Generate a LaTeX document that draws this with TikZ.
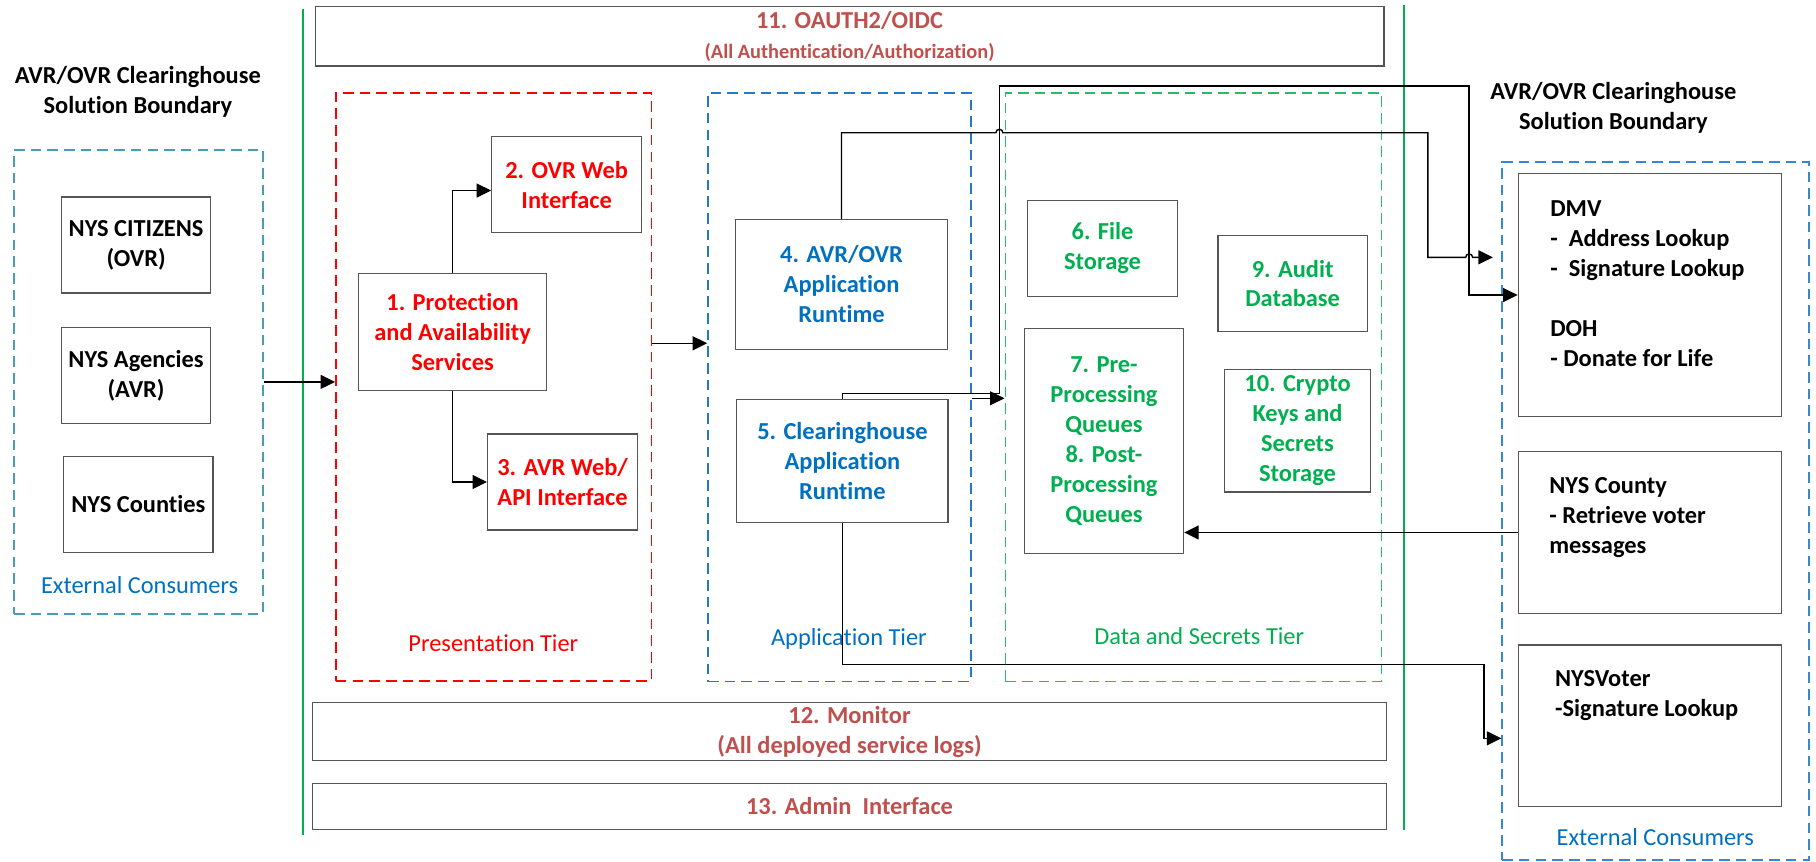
\documentclass[tikz,border=0pt]{standalone}
\usepackage{fontspec}
\setmainfont{Carlito}[Ligatures=NoCommon]
\usepackage{tikz}
\usetikzlibrary{arrows.meta,calc}

\definecolor{tred}{HTML}{FF0000}
\definecolor{tblue}{HTML}{0070C0}
\definecolor{tgreen}{HTML}{00B050}
\definecolor{tbrown}{HTML}{C0504D}
\definecolor{boxgray}{HTML}{555555}
\definecolor{extteal}{HTML}{4B9DB6}
\definecolor{extblue}{HTML}{3389D6}
\definecolor{appblue}{HTML}{2479C9}
\definecolor{datagreen}{HTML}{22BF66}
\definecolor{wallgreen}{HTML}{00B050}

\newcommand{\diafont}{\fontsize{12}{14.74}\selectfont}

\tikzset{
  box/.style={draw=boxgray, line width=0.6pt, inner sep=0pt, align=center, font=\diafont\bfseries},
  band/.style={box, text=tbrown},
  tier/.style={line width=0.8pt, dash pattern=on 5.2pt off 3pt, inner sep=0pt},
  lbl/.style={inner sep=0pt, font=\diafont},
  list/.style={inner sep=0pt, align=left, anchor=north west, font=\diafont\bfseries},
  arr/.style={line width=0.7pt, -{Triangle[length=0.25cm,width=0.24cm]}},
  wall/.style={draw=wallgreen, line width=1pt},
}

\begin{document}
\begin{tikzpicture}[x=0.02cm, y=-0.02cm]
\fill[white] (0,0) rectangle (1568,744);
\useasboundingbox (0,0) rectangle (1568,744);

% Solution boundary walls
\draw[wall] (262,8) -- (262,721);
\draw[wall] (1212,4) -- (1212,717);

% Left external consumers
\node[lbl, font=\diafont\bfseries, align=center] (titleL) at (119,79.4) {AVR/OVR Clearinghouse\\Solution Boundary};
\node[tier, draw=extteal, minimum width=4.30cm, minimum height=8.01cm] (extL) at (119.6,329.75) {};
\node[box, minimum width=2.58cm, minimum height=1.66cm] (cit) at (117.5,211.5) {NYS CITIZENS\\(OVR)};
\node[box, minimum width=2.58cm, minimum height=1.66cm] (agn) at (117.5,324.5) {NYS Agencies\\(AVR)};
\node[box, minimum width=2.58cm, minimum height=1.66cm] (cty) at (119.5,435.5) {NYS Counties};
\node[lbl, text=tblue] (extLlbl) at (120.6,505) {External Consumers};

% 11 band
\node[band, minimum width=18.46cm, minimum height=1.02cm] (oauth) at (733.5,31.4) {11. OAUTH2/OIDC\\{\fontsize{10}{12}\selectfont (All Authentication/Authorization)}};

% Presentation tier
\node[tier, draw=tred, minimum width=5.448cm, minimum height=10.16cm] (presT) at (426.2,334) {};
\node[box, text=tred, minimum width=3.246cm, minimum height=2.02cm] (p1) at (390.75,286.5) {1. Protection\\and Availability\\Services};
\node[box, text=tred, minimum width=2.588cm, minimum height=1.66cm] (p2) at (489.3,159.5) {2. OVR Web\\Interface};
\node[box, text=tred, minimum width=2.59cm, minimum height=1.658cm] (p3) at (485.75,416.15) {3. AVR Web/\\API Interface};
\node[lbl, text=tred] (presLbl) at (426,555.5) {Presentation Tier};

% Application tier
\node[tier, draw=appblue, minimum width=4.54cm, minimum height=10.17cm] (appT) at (724.8,334.3) {};
\node[box, text=tblue, minimum width=3.664cm, minimum height=2.244cm] (a4) at (726.6,245.5) {4. AVR/OVR\\Application\\Runtime};
\node[box, text=tblue, minimum width=3.646cm, minimum height=2.13cm] (a5) at (727.35,398) {5. Clearinghouse\\Application\\Runtime};
\node[lbl, text=tblue] (appLbl) at (733,552) {Application Tier};

% Data and secrets tier
\node[tier, draw=datagreen, minimum width=6.5cm, minimum height=10.17cm] (dataT) at (1030.5,334.3) {};
\node[box, text=tgreen, minimum width=2.582cm, minimum height=1.656cm] (d6) at (951.95,214.4) {6. File\\Storage};
\node[box, text=tgreen, minimum width=2.752cm, minimum height=3.878cm] (d78) at (953.2,380.75) {7. Pre-\\Processing\\Queues\\8. Post-\\Processing\\Queues};
\node[box, text=tgreen, minimum width=2.58cm, minimum height=1.664cm] (d9) at (1116.1,244.8) {9. Audit\\Database};
\node[box, text=tgreen, minimum width=2.52cm, minimum height=2.118cm] (d10) at (1120.3,371.85) {10. Crypto\\Keys and\\Secrets\\Storage};
\node[lbl, text=tgreen] (dataLbl) at (1035.5,548.9) {Data and Secrets Tier};

% 12 and 13 bands
\node[band, minimum width=18.56cm, minimum height=1.01cm] (mon) at (733.5,631.7) {12. Monitor\\(All deployed service logs)};
\node[band, minimum width=18.56cm, minimum height=0.79cm] (adm) at (733.5,696.2) {13. Admin\ \ Interface};

% Right external consumers
\node[lbl, font=\diafont\bfseries, align=center] (titleR) at (1393,93.5) {AVR/OVR Clearinghouse\\Solution Boundary};
\node[tier, draw=extblue, minimum width=5.3cm, minimum height=12.06cm] (extR) at (1429.5,441.1) {};
\node[box, line width=0.7pt, minimum width=4.54cm, minimum height=4.202cm] (dmv) at (1424.5,254.75) {};
\node[box, line width=0.7pt, minimum width=4.54cm, minimum height=2.79cm] (ncty) at (1424.5,459.75) {};
\node[box, line width=0.7pt, minimum width=4.54cm, minimum height=2.792cm] (nyv) at (1424.5,626.7) {};
\node[list] (dmvTxt) at ([xshift=0.556cm,yshift=-0.468cm]dmv.north west) {DMV\\-\ \ Address Lookup\\-\ \ Signature Lookup\\[14.74pt]DOH\\- Donate for Life};
\node[list] (nctyTxt) at ([xshift=0.54cm,yshift=-0.456cm]ncty.north west) {NYS County\\- Retrieve voter\\messages};
\node[list] (nyvTxt) at ([xshift=0.64cm,yshift=-0.44cm]nyv.north west) {NYSVoter\\-Signature Lookup};
\node[lbl, text=tblue] (extRlbl) at (1429.2,723) {External Consumers};

% Connectors
\coordinate (rowA) at (600,296.4);
\coordinate (rowB) at (850,343.9);
\coordinate (jA) at (862.9,114.6);
\coordinate (cA) at (1232.8,114.6);
\coordinate (jB) at (1268.5,222.2);
\coordinate (tipA) at (1289,222.2);
\coordinate (cB1) at (862.9,339.6);
\coordinate (cB2) at (1268.5,74.3);
\coordinate (cC) at (1281.3,573.6);
\coordinate (tipC) at (1297,637.5);

\draw[arr] (extL.east) -- (extL.east -| presT.west);
\draw[arr] (p1.north) |- ([yshift=-0.1cm]p2.west);
\draw[arr] (p1.south) |- (p3.west);
\draw[arr] (presT.east |- rowA) -- (appT.west |- rowA);
\draw[arr] (appT.east |- rowB) -- (dataT.west |- rowB);
\draw[arr] (a4.north) |- ([xshift=-0.06cm]jA) arc[start angle=180, end angle=0, radius=0.06cm] -- (cA) |- ([xshift=-0.06cm]jB) arc[start angle=180, end angle=0, radius=0.06cm] -- (tipA);
\draw[arr] (a5.north) |- (cB1) |- (cB2) |- (dmv.west);
\draw[arr] (a5.south) |- (cC) |- (extR.west |- tipC);
\draw[arr] (ncty.west) -- (ncty.west -| d78.east);
\end{tikzpicture}
\end{document}
